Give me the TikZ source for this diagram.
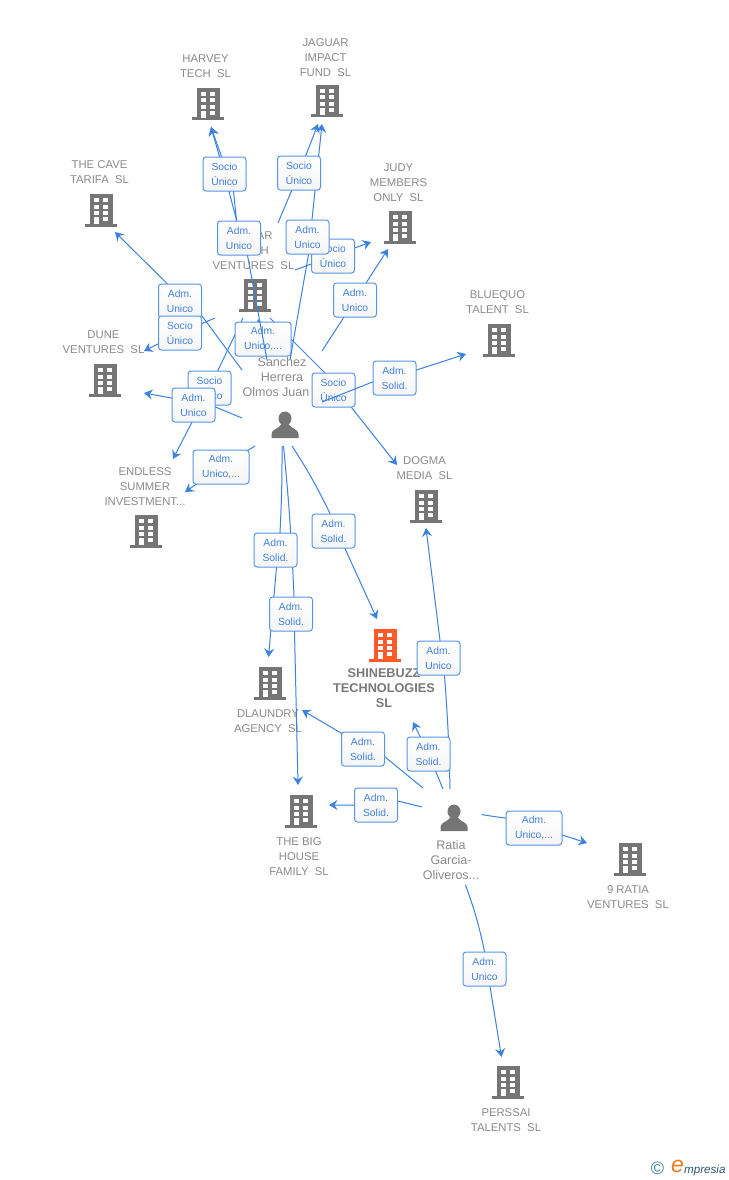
\documentclass[tikz,border=0pt]{standalone}
\usepackage{fontspec}
\setmainfont{Liberation Sans}
\usetikzlibrary{arrows.meta}
\definecolor{edgeblue}{HTML}{3B82E0}
\definecolor{labblue}{HTML}{3F80DC}
\definecolor{entgray}{HTML}{8A8A8A}
\definecolor{icongray}{HTML}{757575}
\definecolor{hot}{HTML}{FF5A28}
\definecolor{logoteal}{HTML}{3F7F95}
\definecolor{logoorange}{HTML}{F07A1A}
\pgfdeclarelayer{edgelayer}
\pgfdeclarelayer{lowlab}
\pgfdeclarelayer{overlayer}
\pgfdeclarelayer{lab}
\pgfsetlayers{main,edgelayer,lowlab,overlayer,lab}
\tikzset{
  x=1pt,y=-1pt,
  edge/.style={draw=edgeblue,line width=1pt,-{Stealth[length=8.5pt,width=10pt,inset=3pt]}},
  rel/.style={draw=edgeblue!85,line width=1pt,rounded corners=3pt,top color=white,bottom color=black!4,
     text=labblue,minimum width=43pt,minimum height=34pt,inner sep=0pt,align=center,
     font=\fontsize{10.3}{15}\selectfont},
  relw/.style={rel,minimum width=56pt},
  ent/.style={text=entgray,align=center,inner sep=0pt,font=\fontsize{11.3}{15}\selectfont},
  hotent/.style={ent,text=black!53,font=\fontsize{12.7}{15}\selectfont\bfseries},
  who/.style={ent,font=\fontsize{12.5}{15}\selectfont},
  pics/bld/.style={code={
    \fill[#1] (-11.5,-16) rectangle (11.5,14.5);
    \fill[#1] (-16,13.5) rectangle (16,16.5);
    \foreach \yy in {-11.7,-5.5,0.7}{
      \fill[white] (-7.3,\yy) rectangle (-2.3,\yy+4);
      \fill[white] (2,\yy) rectangle (7,\yy+4);
    }
    \fill[white] (-7.3,7) rectangle (-2.3,14);
    \fill[white] (2,7) rectangle (7,11);
  }},
  pics/man/.style={code={
    \fill[icongray] (0,-6.5) ellipse (6.5 and 7);
    \fill[icongray] (-13.5,13) -- (-13.5,9) .. controls (-13.5,4) and (-6,4) .. (-3.5,-1)
       -- (3.5,-1) .. controls (6,4) and (13.5,4) .. (13.5,9) -- (13.5,13) -- cycle;
  }}
}
% \lnk{layer}{start name}{sx,sy}{end name}{ex,ey}{middle of the path}
\newcommand{\lnk}[6]{%
  \coordinate (#2) at (#3);\coordinate (#4) at (#5);
  \begin{pgfonlayer}{#1}\draw[edge] (#2) #6 (#4);\end{pgfonlayer}}
\begin{document}
\begin{tikzpicture}
\useasboundingbox (0,0) rectangle (728,1180);
\fill[white] (0,0) rectangle (728,1180);
% buildings
\pic at (208,104) {bld=icongray};
\pic at (327,101) {bld=icongray};
\pic at (101,210) {bld=icongray};
\pic at (400,227) {bld=icongray};
\pic at (255,295) {bld=icongray};
\pic at (499,340) {bld=icongray};
\pic at (105,380) {bld=icongray};
\pic at (146,531) {bld=icongray};
\pic at (426,506) {bld=icongray};
\pic at (385,645) {bld=hot};
\pic at (270,683) {bld=icongray};
\pic at (301,811) {bld=icongray};
\pic at (630,859) {bld=icongray};
\pic at (508,1082) {bld=icongray};
\pic at (285,425) {man};
\pic at (454,818) {man};
% entity texts
\node[ent] (tharvey) at (205.5,66.5) {HARVEY\\TECH\ \ SL};
\node[ent] (tjaguar) at (325.5,57.5) {JAGUAR\\IMPACT\\FUND\ \ SL};
\node[ent] (tcave) at (99.5,172.5) {THE CAVE\\TARIFA\ \ SL};
\node[ent] (tjudy) at (398.5,182.5) {JUDY\\MEMBERS\\ONLY\ \ SL};
\node[ent] (tvent) at (253.5,250.5) {\phantom{SOL}AR\\\phantom{TEC}H\\VENTURES\ \ SL};
\node[ent] (tblue) at (497.5,302.5) {BLUEQUO\\TALENT\ \ SL};
\node[ent] (tdune) at (103.5,342.5) {DUNE\\VENTURES\ \ SL};
\node[ent] (tendl) at (145,486.5) {ENDLESS\\SUMMER\\INVESTMENT...};
\node[ent] (tdogma) at (424.5,468.5) {DOGMA\\MEDIA\ \ SL};
\node[hotent] (tshine) at (384,688) {SHINEBUZZ\\TECHNOLOGIES\\SL};
\node[ent] (tdlau) at (268,721.5) {DLAUNDRY\\AGENCY\ \ SL};
\node[ent] (tbig) at (299,856.5) {THE BIG\\HOUSE\\FAMILY\ \ SL};
\node[ent] (tratia) at (628,897.5) {9 RATIA\\VENTURES\ \ SL};
\node[ent] (tpers) at (506,1120.5) {PERSSAI\\TALENTS\ \ SL};
\node[who] (tsan) at (279,377.5) {Sanchez\hspace{-6pt}\mbox{}\\Herrera\hspace{-6pt}\mbox{}\\Olmos Juan\hspace{6pt}\mbox{}};
\node[who] (trat) at (451,860.5) {Ratia\\Garcia-\\Oliveros...};
% labels
\begin{pgfonlayer}{lowlab}
\node[rel] (l10) at (333.5,390) {Socio\\Único};
\node[relw] (l9) at (263,339) {Adm.\\Unico,...};
\end{pgfonlayer}
\begin{pgfonlayer}{lab}
\node[rel] (l1) at (224.5,174) {Socio\\Único};
\node[rel] (l2) at (299,173) {Socio\\Único};
\node[rel] (l5) at (333,256) {Socio\\Único};
\node[rel] (l3) at (239,238) {Adm.\\Unico};
\node[rel] (l4) at (307.5,237) {Adm.\\Unico};
\node[rel] (l6) at (355,300) {Adm.\\Unico};
\node[rel] (l7) at (180,301) {Adm.\\Unico};
\node[rel] (l8) at (180,333) {Socio\\Único};
\node[rel] (l11) at (209.5,388) {Socio\\Único};
\node[rel] (l12) at (193.5,405) {Adm.\\Unico};
\node[rel] (l13) at (394.5,378) {Adm.\\Solid.};
\node[relw] (l14) at (221,467) {Adm.\\Unico,...};
\node[rel] (l15) at (333.5,531) {Adm.\\Solid.};
\node[rel] (l16) at (275.5,550) {Adm.\\Solid.};
\node[rel] (l17) at (291,614) {Adm.\\Solid.};
\node[rel] (l18) at (438.5,658) {Adm.\\Unico};
\node[rel] (l19) at (363,749) {Adm.\\Solid.};
\node[rel] (l20) at (428.5,754) {Adm.\\Solid.};
\node[rel] (l21) at (376,805) {Adm.\\Solid.};
\node[relw] (l22) at (534,828) {Adm.\\Unico,...};
\node[rel] (l23) at (484.5,969) {Adm.\\Unico};
\end{pgfonlayer}
% connectors
\lnk{edgelayer}{a1}{237,222}{b1}{211,127}{-- (l1.center) --}
\lnk{edgelayer}{a2}{278,223}{b2}{318,124}{-- (l2.center) --}
\lnk{edgelayer}{a5}{295,270}{b5}{371,242}{-- (l5.center) --}
\lnk{edgelayer}{a8}{215,318}{b8}{144,351}{-- (l8.center) --}
\lnk{edgelayer}{a10}{270,318}{b10}{397,465}{-- ([xshift=-9pt]l10.north) -- ([xshift=18pt]l10.south) --}
\lnk{edgelayer}{a11}{243,318}{b11}{173,459}{-- (l11.center) --}
\lnk{overlayer}{a3}{267,360}{b3}{211,127}{-- ([xshift=8.5pt]l3.south) -- ([xshift=-2.5pt]l3.north) -- ([xshift=9pt]l1.south) -- ([xshift=-3pt]l1.north) --}
\lnk{overlayer}{a4}{290,360}{b4}{322,124}{-- ([xshift=1pt]l4.south) -- ([xshift=4.5pt]l4.north) --}
\lnk{edgelayer}{a9}{267,357}{b9}{258,319}{-- (l9.center) --}
\lnk{edgelayer}{a6}{322,351}{b6}{388,249}{-- (l6.center) --}
\lnk{edgelayer}{a7}{242,370}{b7}{115,232}{-- ([yshift=-15pt]l7.east) -- ([xshift=-13pt]l7.north) --}
\lnk{edgelayer}{a12}{242,418}{b12}{144,393}{-- ([yshift=-2pt]l12.east) -- ([yshift=7pt]l12.west) --}
\lnk{overlayer}{a13}{322,402}{b13}{466,354}{-- ([yshift=-4pt]l13.west) -- ([yshift=8pt]l13.east) --}
\lnk{edgelayer}{a14}{255,446}{b14}{185,492}{-- (l14.center) --}
\lnk{edgelayer}{a15}{292,446}{b15}{377,619}{to[bend left=3.5] ([xshift=-3.5pt]l15.north) -- ([xshift=11.5pt]l15.south) --}
\lnk{edgelayer}{a16}{282,446}{b16}{268.5,657}{to[bend left=1.5] ([xshift=4.5pt]l16.north) -- ([xshift=1pt]l16.south) --}
\lnk{edgelayer}{a17}{283.5,446}{b17}{298,785}{to[bend left=1.5] ([xshift=3pt]l17.north) -- ([xshift=3.5pt]l17.south) --}
\lnk{edgelayer}{a18}{450,789}{b18}{426,528}{to[bend right=1.5] ([xshift=6pt]l18.south) -- ([xshift=1.5pt]l18.north) --}
\lnk{edgelayer}{a19}{423,788}{b19}{302,710}{-- ([yshift=-8pt]l19.east) -- ([yshift=16pt]l19.west) --}
\lnk{edgelayer}{a20}{443,789}{b20}{413,722}{-- (l20.center) --}
\lnk{edgelayer}{a21}{422,807}{b21}{329,805}{-- ([yshift=4pt]l21.east) -- (l21.west) --}
\lnk{edgelayer}{a22}{481.5,814.5}{b22}{587,843}{to[bend right=1.5] ([yshift=10pt]l22.west) -- ([yshift=-7pt]l22.east) --}
\lnk{edgelayer}{a23}{465.5,885}{b23}{501.5,1057}{to[bend left=4] (l23.north) -- ([xshift=5.5pt]l23.south) --}
% logo
\node[text=logoteal,inner sep=0pt,font=\fontsize{18}{18}\selectfont] (lc) at (657.5,1168.5) {©};
\node[text=logoorange,inner sep=0pt,font=\fontsize{23}{23}\selectfont\itshape] (le) at (677.5,1166) {e};
\node[text=logoteal!70!black,inner sep=0pt,anchor=west,font=\fontsize{11.6}{12}\selectfont\itshape] (lm) at (684,1170) {mpresia};
\end{tikzpicture}
\end{document}
